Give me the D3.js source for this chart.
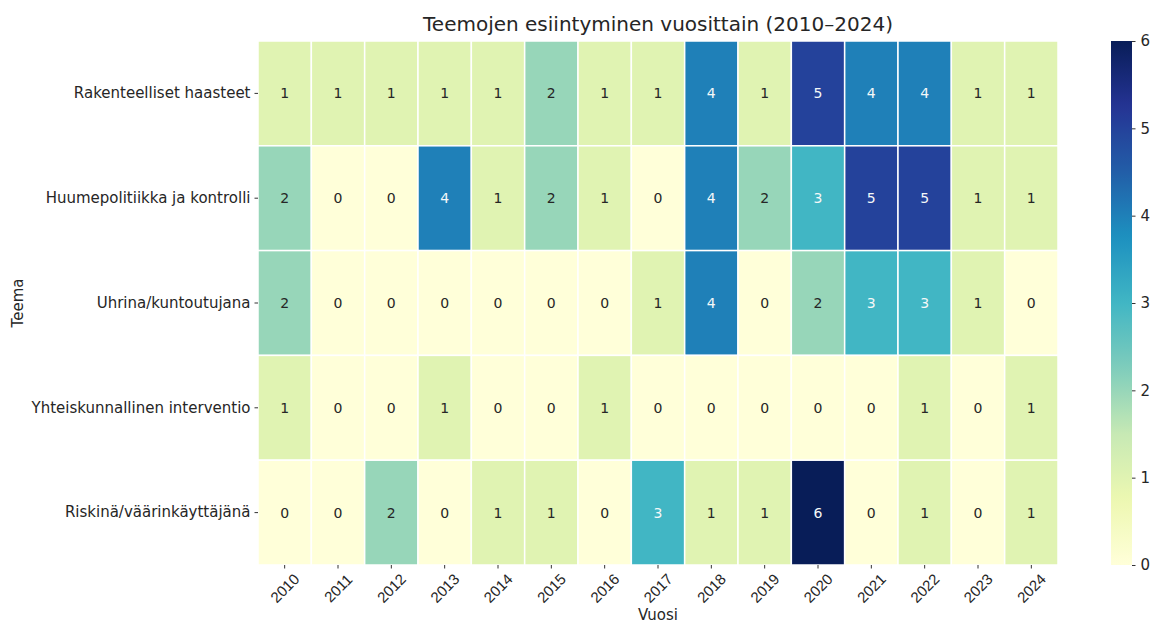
<!DOCTYPE html>
<html>
<head>
<meta charset="utf-8">
<script src="https://cdn.jsdelivr.net/npm/d3@7"></script>
<style>
  body { margin: 0; background: #fff; }
  svg { font-family: "DejaVu Sans", sans-serif; display: block; }
</style>
</head>
<body>
<svg id="heatmap" width="1152" height="625"></svg>
<script>
const years = ["2010", "2011", "2012", "2013", "2014", "2015", "2016", "2017", "2018", "2019", "2020", "2021", "2022", "2023", "2024"];
const themes = [
  "Rakenteelliset haasteet",
  "Huumepolitiikka ja kontrolli",
  "Uhrina/kuntoutujana",
  "Yhteiskunnallinen interventio",
  "Riskinä/väärinkäyttäjänä"
];
const rakenteelliset = [1, 1, 1, 1, 1, 2, 1, 1, 4, 1, 5, 4, 4, 1, 1];
const huumepolitiikka = [2, 0, 0, 4, 1, 2, 1, 0, 4, 2, 3, 5, 5, 1, 1];
const uhrina = [2, 0, 0, 0, 0, 0, 0, 1, 4, 0, 2, 3, 3, 1, 0];
const yhteiskunnallinen = [1, 0, 0, 1, 0, 0, 1, 0, 0, 0, 0, 0, 1, 0, 1];
const riskina = [0, 0, 2, 0, 1, 1, 0, 3, 1, 1, 6, 0, 1, 0, 1];
const colorbarTicks = [0, 1, 2, 3, 4, 5, 6];

const rows = [rakenteelliset, huumepolitiikka, uhrina, yhteiskunnallinen, riskina];
const cells = rows.flatMap((vals, r) => vals.map((v, c) => ({ theme: themes[r], year: years[c], value: v })));

const svg = d3.select("#heatmap");
const plot = { left: 258, right: 1058, top: 41, bottom: 565 };

// YlGnBu, linear between the ColorBrewer stops (like matplotlib)
const ylgnbu = ["#ffffd9", "#edf8b1", "#c7e9b4", "#7fcdbb", "#41b6c4", "#1d91c0", "#225ea8", "#253494", "#081d58"];
const vmax = 6;
const color = d3.scaleLinear()
  .domain(ylgnbu.map((_, i) => i * vmax / (ylgnbu.length - 1)))
  .range(ylgnbu)
  .interpolate(d3.interpolateRgb);

const x = d3.scaleBand().domain(years).range([plot.left, plot.right]);
const y = d3.scaleBand().domain(themes).range([plot.top, plot.bottom]);

function textColor(v) {
  const c = d3.rgb(color(v));
  const lin = (u) => { u /= 255; return u <= 0.03928 ? u / 12.92 : Math.pow((u + 0.055) / 1.055, 2.4); };
  const lum = 0.2126 * lin(c.r) + 0.7152 * lin(c.g) + 0.0722 * lin(c.b);
  return lum > 0.408 ? "#262626" : "#f4f8f8";
}

const cellG = svg.append("g");
cellG.selectAll("rect")
  .data(cells)
  .join("rect")
  .attr("x", (d) => x(d.year))
  .attr("y", (d) => y(d.theme))
  .attr("width", x.bandwidth())
  .attr("height", y.bandwidth())
  .attr("fill", (d) => color(d.value))
  .attr("stroke", "#fff")
  .attr("stroke-width", 1.5);

cellG.selectAll("text")
  .data(cells)
  .join("text")
  .attr("x", (d) => x(d.year) + x.bandwidth() / 2)
  .attr("y", (d) => y(d.theme) + y.bandwidth() / 2)
  .attr("text-anchor", "middle")
  .attr("dominant-baseline", "central")
  .attr("font-size", 14)
  .attr("fill", (d) => textColor(d.value))
  .text((d) => d.value);

// x axis
const xAxis = svg.append("g")
  .attr("transform", `translate(0,${plot.bottom})`)
  .call(d3.axisBottom(x).tickSize(3.5).tickPadding(0).tickFormat(""));
xAxis.select(".domain").remove();
xAxis.selectAll(".tick line").attr("stroke", "#333");
xAxis.selectAll(".tick")
  .append("text")
  .attr("transform", "translate(0,23) rotate(-45)")
  .attr("text-anchor", "middle")
  .attr("dominant-baseline", "central")
  .attr("fill", "#262626")
  .attr("font-size", 15)
  .text((d) => d);

// y axis
const yAxis = svg.append("g")
  .attr("transform", `translate(${plot.left},0)`)
  .call(d3.axisLeft(y).tickSize(3.5).tickPadding(4));
yAxis.select(".domain").remove();
yAxis.selectAll(".tick line").attr("stroke", "#333");
yAxis.selectAll(".tick text")
  .attr("font-size", 15)
  .attr("fill", "#262626")
  .attr("font-family", "DejaVu Sans");

// labels
svg.append("text")
  .attr("x", (plot.left + plot.right) / 2)
  .attr("y", 31)
  .attr("text-anchor", "middle")
  .attr("font-size", 20)
  .attr("fill", "#262626")
  .text("Teemojen esiintyminen vuosittain (2010–2024)");

svg.append("text")
  .attr("x", (plot.left + plot.right) / 2)
  .attr("y", 620)
  .attr("text-anchor", "middle")
  .attr("font-size", 15)
  .attr("fill", "#262626")
  .text("Vuosi");

svg.append("text")
  .attr("transform", `translate(23,${(plot.top + plot.bottom) / 2}) rotate(-90)`)
  .attr("text-anchor", "middle")
  .attr("font-size", 15)
  .attr("fill", "#262626")
  .text("Teema");

// colorbar
const cb = { x: 1111, width: 21 };
const cbScale = d3.scaleLinear().domain([0, vmax]).range([plot.bottom, plot.top]);
const grad = svg.append("defs").append("linearGradient")
  .attr("id", "cbgrad")
  .attr("x1", 0).attr("y1", 1).attr("x2", 0).attr("y2", 0);
grad.selectAll("stop")
  .data(d3.range(0, 61).map((i) => i / 60))
  .join("stop")
  .attr("offset", (t) => t)
  .attr("stop-color", (t) => color(t * vmax));

svg.append("rect")
  .attr("x", cb.x)
  .attr("y", plot.top)
  .attr("width", cb.width)
  .attr("height", plot.bottom - plot.top)
  .attr("fill", "url(#cbgrad)");

const cbAxis = svg.append("g")
  .attr("transform", `translate(${cb.x + cb.width},0)`)
  .call(d3.axisRight(cbScale).tickValues(colorbarTicks).tickFormat(d3.format("d")).tickSize(3.5).tickPadding(5));
cbAxis.select(".domain").remove();
cbAxis.selectAll(".tick line").attr("stroke", "#333");
cbAxis.selectAll(".tick text")
  .attr("font-size", 15)
  .attr("fill", "#262626")
  .attr("font-family", "DejaVu Sans");
</script>
</body>
</html>
